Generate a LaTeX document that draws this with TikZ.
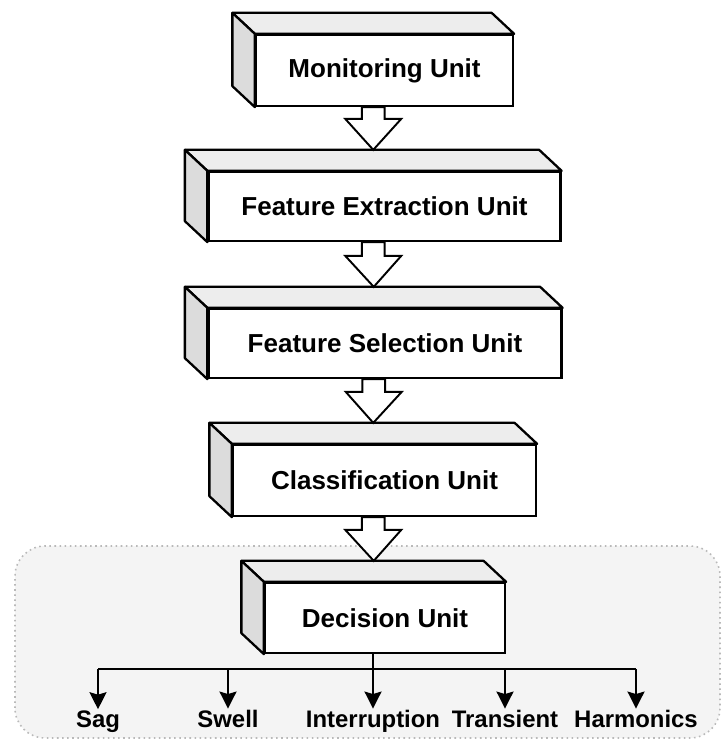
\documentclass[tikz,border=0pt]{standalone}
\usepackage{fontspec}
\setmainfont{Liberation Sans}
\usetikzlibrary{calc,arrows.meta}

\definecolor{zonefill}{HTML}{F4F4F4}
\definecolor{topgray}{HTML}{EDEDED}
\definecolor{sidegray}{HTML}{DCDCDC}

\tikzset{
  unit/.style={draw, fill=white, line width=1.3pt, inner sep=0pt,
    font=\fontsize{14.8}{17}\selectfont\bfseries},
  topface/.style={draw, fill=topgray, line width=1.3pt, line join=round},
  sideface/.style={draw, fill=sidegray, line width=1.3pt, line join=round},
  zone/.style={draw=gray!55, fill=zonefill, dotted, line width=0.9pt, rounded corners=0.6cm},
  fatarrow/.style={draw, fill=white, line width=1.1pt, to path={
    let \p1=(\tikztostart), \p2=(\tikztotarget) in
    (\x1-6.5pt,\y1) -- (\x1-6.5pt,\y2+17.6pt) -- (\x1-15.9pt,\y2+17.6pt) -- (\x2,\y2)
    -- (\x1+15.9pt,\y2+17.6pt) -- (\x1+6.5pt,\y2+17.6pt) -- (\x1+6.5pt,\y1) -- cycle}},
  branch/.style={line width=1.2pt},
  disturb/.style={font=\fontsize{13.6}{16}\selectfont\bfseries, inner sep=1pt, anchor=base}
}

\begin{document}
\begin{tikzpicture}
\useasboundingbox (0,0) rectangle (14.48,14.84);

\draw[zone] (0.30,0.08) rectangle (14.40,3.92);

\node[unit, minimum width=5.14cm, minimum height=1.42cm] (monitor) at (7.69,13.43) {Monitoring Unit};
\node[unit, minimum width=7.04cm, minimum height=1.38cm] (fextract) at (7.69,10.71) {Feature Extraction Unit};
\node[unit, minimum width=7.06cm, minimum height=1.38cm] (fselect) at (7.70,7.97) {Feature Selection Unit};
\node[unit, minimum width=6.06cm, minimum height=1.42cm] (classify) at (7.69,5.23) {Classification Unit};
\node[unit, minimum width=4.80cm, minimum height=1.40cm] (decide) at (7.70,2.48) {Decision Unit};

\foreach \u in {monitor,fextract,fselect,classify,decide} {
  \draw[topface] (\u.north west) -- ++(-0.45,0.42) -- ($(\u.north east)+(-0.45,0.42)$) -- (\u.north east) -- cycle;
  \draw[sideface] (\u.north west) -- ++(-0.45,0.42) -- ($(\u.south west)+(-0.45,0.42)$) -- (\u.south west) -- cycle;
}

\draw[fatarrow] ($(monitor.south)+(-0.225,0)$) to ($(fextract.north)+(-0.225,0.42)$);
\draw[fatarrow] ($(fextract.south)+(-0.225,0)$) to ($(fselect.north)+(-0.225,0.42)$);
\draw[fatarrow] ($(fselect.south)+(-0.225,0)$) to ($(classify.north)+(-0.225,0.42)$);
\draw[fatarrow] ($(classify.south)+(-0.225,0)$) to ($(decide.north)+(-0.225,0.42)$);

\node[disturb] (sag) at (1.96,0.28) {Sag};
\node[disturb] (swell) at (4.56,0.28) {Swell};
\node[disturb] (interrupt) at (7.46,0.28) {Interruption};
\node[disturb] (transient) at (10.10,0.28) {Transient};
\node[disturb] (harmonic) at (12.72,0.28) {Harmonics};

\coordinate (bar) at ($(decide.south)+(-0.24,-0.30)$);
\draw[branch] ($(decide.south)+(-0.24,0)$) -- (bar);
\draw[branch] (sag.north |- bar) -- (harmonic.north |- bar);
\foreach \k in {sag,swell,interrupt,transient,harmonic}
  \draw[branch, -{Stealth[length=0.34cm, width=0.34cm, inset=0.05cm]}] (\k.north |- bar) -- (\k.north);
\end{tikzpicture}
\end{document}
